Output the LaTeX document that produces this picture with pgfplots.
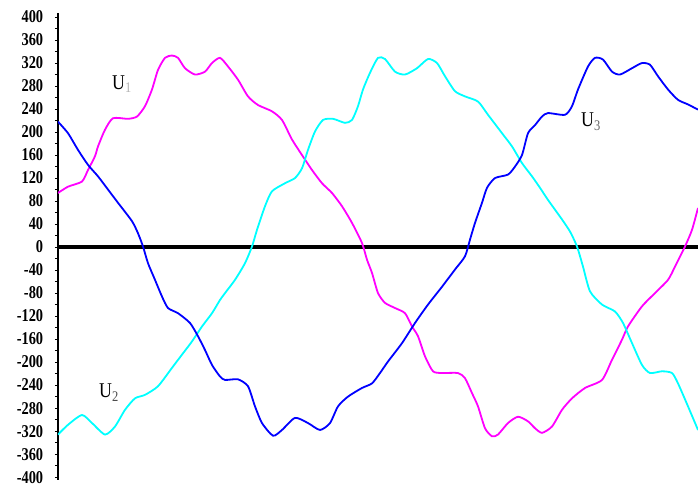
\documentclass[border=0pt]{standalone}
\usepackage{fontspec}
\setmainfont{Liberation Serif}
\usepackage{pgfplots}
\pgfplotsset{compat=1.18}

\definecolor{phaseA}{RGB}{255,0,255}
\definecolor{phaseB}{RGB}{0,255,255}
\definecolor{phaseC}{RGB}{0,0,255}

\begin{document}
\begin{tikzpicture}
\useasboundingbox (-58pt,-6pt) rectangle (640pt,480pt);
\begin{axis}[
  at={(0,0)}, anchor=south west,
  scale only axis, width=640pt, height=467pt,
  xmin=0, xmax=640, ymin=-405, ymax=407,
  axis x line=none,
  axis y line*=left,
  axis line style={black, line width=1.6pt},
  ytick={-400,-360,...,400},
  minor y tick num=1,
  tick align=outside,
  major tick length=3pt, minor tick length=3pt,
  tick style={black, line width=1pt},
  yticklabel shift=9pt,
  yticklabel style={font=\fontsize{18}{18}\selectfont\bfseries, xscale=0.8,
    /pgf/number format/assume math mode=true},
]
% zero reference
\addplot[black, line width=4pt] coordinates {(0,0) (640,0)};

% phase U1
\addplot[phaseA, line width=1.8pt, smooth, tension=0.4] coordinates {
(0,94) (10,105) (24,114) (30,134) (37,158) (40,175) (47,204) (55,224)
(70,223) (79,227) (87,245) (94,274) (100,308) (107,329) (114,333) (120,329)
(127,311) (137,300) (147,305) (154,320) (162,329) (170,314) (180,291)
(190,262) (200,247) (214,236) (224,221) (234,187) (244,160) (254,134)
(264,111) (274,94) (284,71) (294,42) (304,7) (309,-22) (314,-45) (320,-80)
(327,-97) (337,-106) (347,-115) (354,-138) (360,-155) (367,-190) (375,-216)
(384,-219) (400,-219) (407,-228) (414,-254) (420,-277) (427,-315) (434,-329)
(440,-326) (450,-306) (460,-295) (470,-303) (477,-315) (484,-323) (494,-312)
(504,-283) (514,-263) (527,-245) (544,-231) (554,-196) (564,-161) (570,-138)
(584,-103) (597,-80) (610,-57) (617,-34) (627,1) (634,30) (640,68)
};

% phase U2
\addplot[phaseB, line width=1.8pt, smooth, tension=0.4] coordinates {
(0,-326) (10,-309) (24,-292) (34,-306) (47,-326) (57,-312) (67,-283)
(77,-263) (87,-257) (100,-242) (114,-210) (124,-187) (134,-164) (144,-138)
(154,-115) (162,-92) (167,-80) (177,-57) (187,-28) (194,1) (199,30) (207,71)
(214,97) (227,111) (237,120) (244,137) (250,169) (257,201) (265,221)
(275,223) (287,216) (294,221) (300,245) (305,274) (312,303) (320,329)
(327,327) (337,305) (347,300) (359,311) (370,327) (379,320) (387,297)
(397,271) (407,262) (420,253) (430,230) (444,198) (454,175) (464,146)
(474,123) (482,103) (490,82) (504,48) (512,27) (519,1) (525,-34) (532,-77)
(544,-100) (557,-112) (565,-132) (574,-167) (584,-205) (592,-219) (604,-216)
(614,-219) (620,-237) (630,-277) (640,-318)
};

% phase U3
\addplot[phaseC, line width=1.8pt, smooth, tension=0.4] coordinates {
(0,218) (10,198) (20,169) (30,143) (40,123) (50,100) (60,77) (74,45)
(80,24) (85,1) (90,-28) (97,-57) (104,-86) (110,-106) (120,-115) (132,-132)
(140,-155) (147,-179) (154,-205) (162,-225) (167,-231) (180,-230) (190,-242)
(197,-277) (204,-306) (215,-328) (224,-318) (237,-297) (250,-306) (262,-318)
(272,-306) (280,-277) (290,-260) (304,-245) (314,-237) (322,-219) (330,-199)
(344,-167) (357,-132) (370,-100) (384,-69) (397,-39) (407,-16) (412,13)
(417,42) (424,77) (429,103) (437,120) (450,126) (457,140) (464,160)
(470,198) (477,212) (484,227) (490,233) (507,230) (514,245) (520,274)
(530,314) (537,329) (545,326) (554,305) (562,300) (574,311) (584,320)
(592,317) (600,297) (610,274) (620,256) (630,248) (640,239)
};

\node[font=\fontsize{21}{21}\selectfont, xscale=0.85] at (axis cs:64,284) {U\textsubscript{\textcolor{black!30}{1}}};
\node[font=\fontsize{21}{21}\selectfont, xscale=0.85] at (axis cs:51,-253) {U\textsubscript{\textcolor{black!70}{2}}};
\node[font=\fontsize{21}{21}\selectfont, xscale=0.85] at (axis cs:533,218) {U\textsubscript{\textcolor{black!60}{3}}};
\end{axis}
\end{tikzpicture}
\end{document}
